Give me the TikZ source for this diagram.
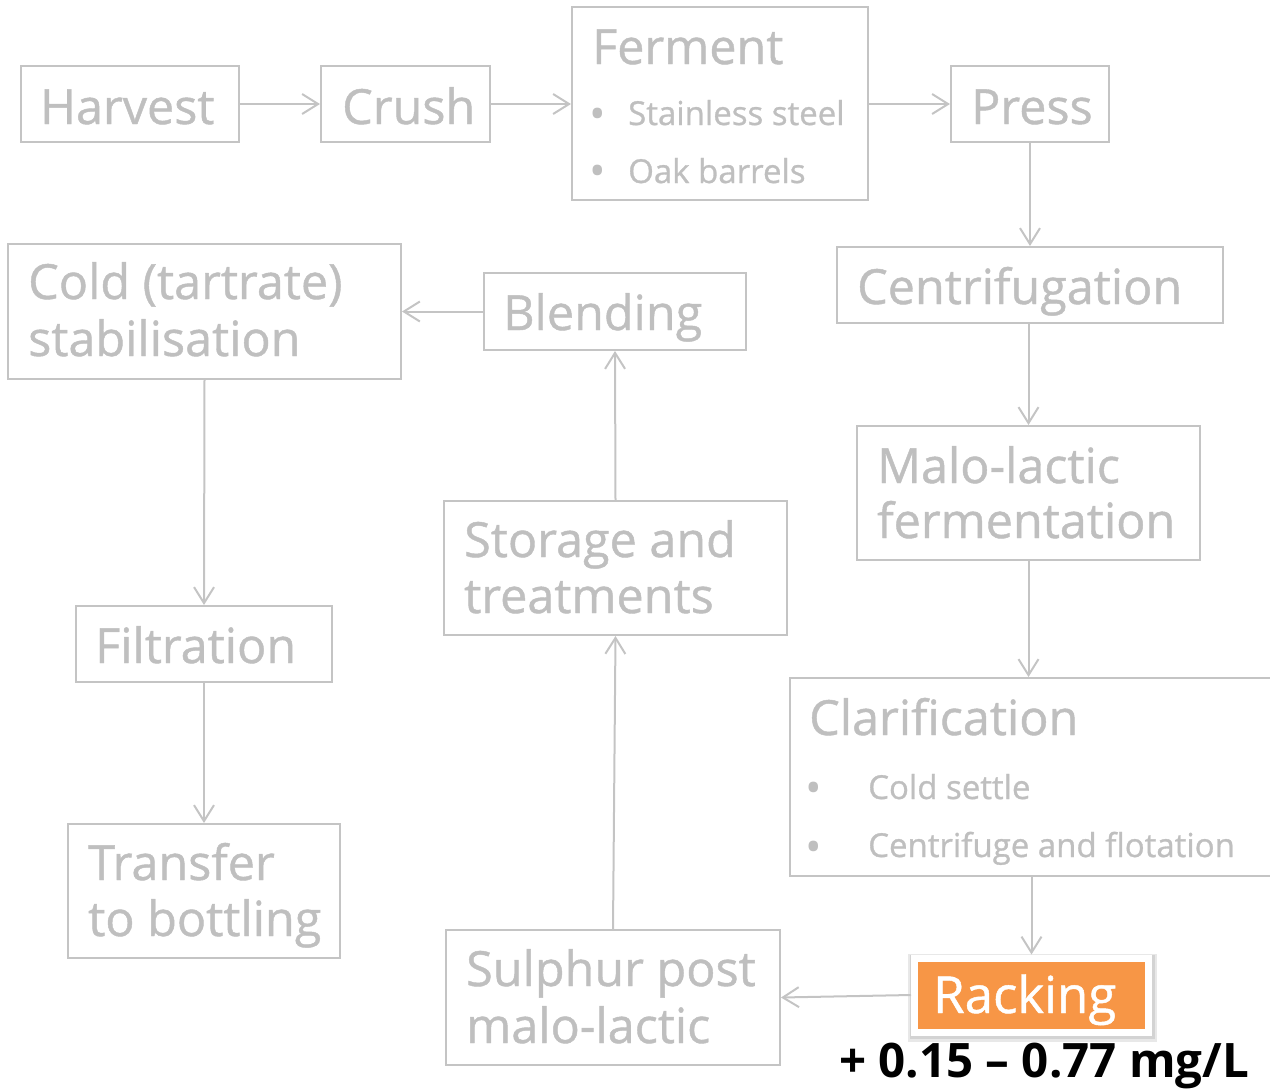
\documentclass[tikz,border=0pt]{standalone}
\usepackage{fontspec}
\setmainfont{Open Sans}
\newfontfamily\graytxt{Open Sans}[FakeBold=0.9]
\usetikzlibrary{arrows.meta}
\definecolor{tgray}{RGB}{191,191,191}
\definecolor{lgray}{RGB}{196,196,196}
\definecolor{rackorange}{RGB}{247,150,70}
\tikzset{
  stepbox/.style={draw=lgray, line width=2pt, inner sep=0pt, rectangle},
  flow/.style={draw=lgray, line width=2pt, -{Straight Barb[length=16pt,width=20pt,line width=2pt]}},
  lbl/.style={anchor=base west, inner sep=0pt, text=tgray, font=\graytxt\fontsize{48.5}{58}\selectfont},
  sublbl/.style={anchor=base west, inner sep=0pt, text=tgray, font=\graytxt\fontsize{33}{40}\selectfont},
  bul/.style={anchor=center, inner sep=0pt, text=tgray, font=\fontsize{44}{44}\selectfont},
  softshadow/.style={fill=black, inner sep=0pt, rectangle, opacity=0.09},
}
\begin{document}
\begin{tikzpicture}[x=1pt,y=-1pt]
\useasboundingbox (0,0) rectangle (1270,1088);
% boxes
\node[stepbox, minimum width=218pt, minimum height=76pt] (harvest) at (130,104) {};
\node[stepbox, minimum width=169pt, minimum height=76pt] (crush) at (405.5,104) {};
\node[stepbox, minimum width=296pt, minimum height=193pt] (ferment) at (720,103.5) {};
\node[stepbox, minimum width=158pt, minimum height=76pt] (press) at (1030,104) {};
\node[stepbox, minimum width=386pt, minimum height=76pt] (centrif) at (1030,285) {};
\node[stepbox, minimum width=343pt, minimum height=134pt] (malo) at (1028.5,493) {};
\node[stepbox, minimum width=500pt, minimum height=198pt] (clarif) at (1040,777) {};
\node[softshadow, minimum width=249pt, minimum height=88pt] (rackshadow1) at (1032,997.5) {};
\node[softshadow, minimum width=245pt, minimum height=84pt] (rackshadow2) at (1032,997) {};
\node[draw=white, line width=7pt, fill=rackorange, inner sep=0pt, minimum width=234pt, minimum height=74pt] (racking) at (1031.5,995) {};
\node[stepbox, minimum width=334pt, minimum height=135pt] (sulphur) at (613,997.5) {};
\node[stepbox, minimum width=343pt, minimum height=134pt] (storage) at (615.5,568) {};
\node[stepbox, minimum width=262pt, minimum height=77pt] (blending) at (615,311.5) {};
\node[stepbox, minimum width=393pt, minimum height=135pt] (cold) at (204.5,311.5) {};
\node[stepbox, minimum width=256pt, minimum height=76pt] (filtration) at (204,644) {};
\node[stepbox, minimum width=272pt, minimum height=134pt] (transfer) at (204,891) {};
% texts
\node[lbl] (harvestT) at (40,124) {Harvest};
\node[lbl] (crushT) at (342,124) {Crush};
\node[lbl] (fermentT) at (592,64) {Ferment};
\node[bul] (fb1) at (598,119) {•};
\node[sublbl] (fs1) at (628,125) {Stainless steel};
\node[bul] (fb2) at (598,176) {•};
\node[sublbl] (fs2) at (628,183) {Oak barrels};
\node[lbl] (pressT) at (971,124) {Press};
\node[lbl] (centrifT) at (857,304) {Centrifugation};
\node[lbl] (maloT1) at (877,483) {Malo-lactic};
\node[lbl] (maloT2) at (877,538) {fermentation};
\node[lbl] (clarifT) at (809,735) {Clarification};
\node[bul] (cb1) at (814,793) {•};
\node[sublbl] (cs1) at (868,799) {Cold settle};
\node[bul] (cb2) at (814,852) {•};
\node[sublbl] (cs2) at (868,857) {Centrifuge and flotation};
\node[anchor=base west, inner sep=0pt, text=white, font=\graytxt\fontsize{51}{60}\selectfont] (rackingT) at (933,1013) {Racking};
\node[anchor=base west, inner sep=0pt, text=black, font=\bfseries\fontsize{47.5}{55}\selectfont] (doseT) at (839,1077) {+ 0.15 – 0.77 mg/L};
\node[lbl] (sulphurT1) at (466,986) {Sulphur post};
\node[lbl] (sulphurT2) at (466,1043) {malo-lactic};
\node[lbl] (storageT1) at (464,557) {Storage and};
\node[lbl] (storageT2) at (464,613) {treatments};
\node[lbl] (blendingT) at (503,330) {Blending};
\node[lbl] (coldT1) at (28,299) {Cold (tartrate)};
\node[lbl] (coldT2) at (28,356) {stabilisation};
\node[lbl] (filtrationT) at (95,663) {Filtration};
\node[lbl] (transferT1) at (88,880) {Transfer};
\node[lbl] (transferT2) at (88,936) {to bottling};
% connectors
\draw[flow] (harvest.east) -- (crush.west);
\draw[flow] (crush.east) -- (ferment.west |- crush.east);
\draw[flow] (ferment.east |- press.west) -- (press.west);
\draw[flow] (press.south) -- (centrif.north -| press.south);
\draw[flow] (centrif.south -| malo.north) -- (malo.north);
\draw[flow] (malo.south) -- (clarif.north -| malo.south);
\draw[flow] (clarif.south -| racking.north) -- (racking.north);
\draw[flow] (racking.west) -- (sulphur.east);
\draw[flow] (sulphur.north) -- (storage.south);
\draw[flow] (storage.north) -- (blending.south);
\draw[flow] (blending.west) -- (cold.east);
\draw[flow] (cold.south) -- (filtration.north);
\draw[flow] (filtration.south) -- (transfer.north);
\end{tikzpicture}
\end{document}
